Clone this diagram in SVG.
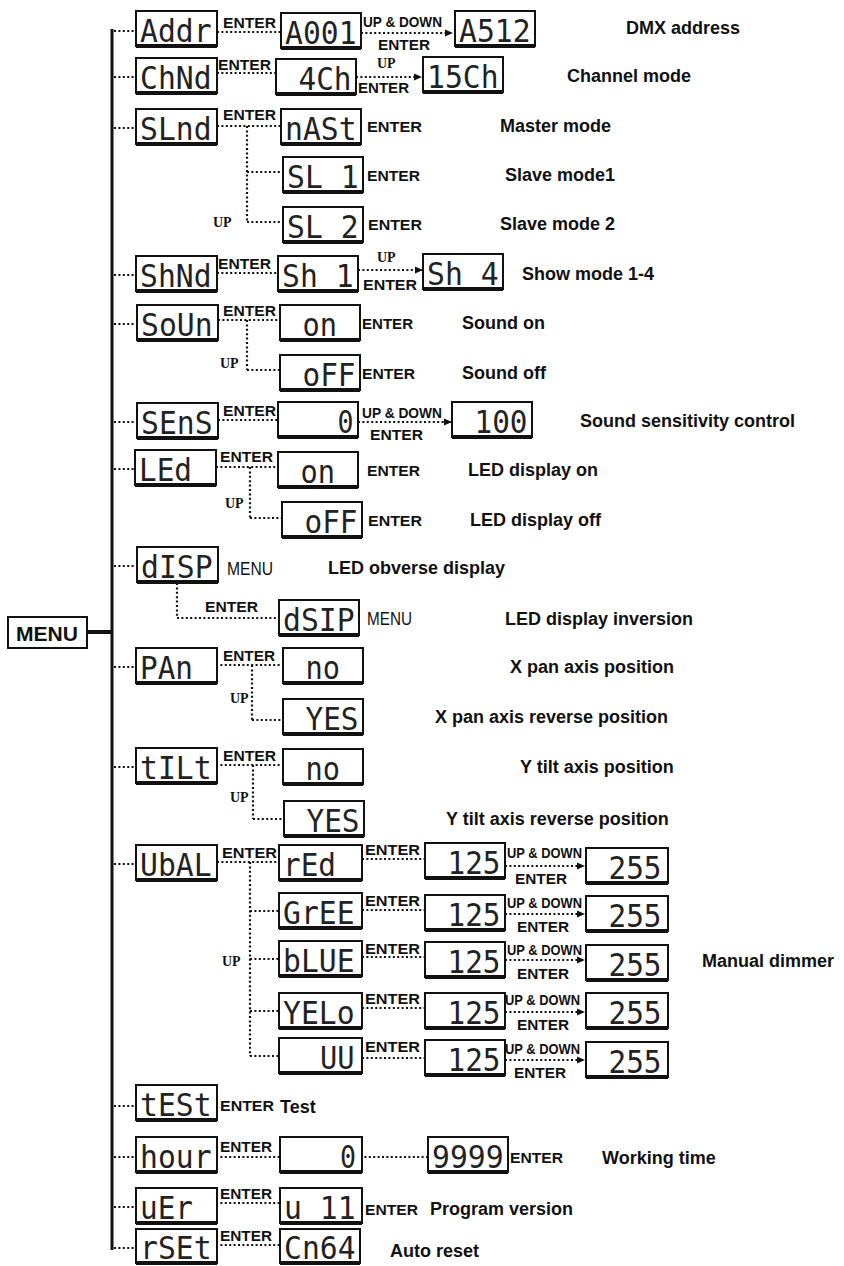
<svg xmlns="http://www.w3.org/2000/svg" width="844" height="1266" viewBox="0 0 844 1266">
<style>
.box{fill:#fff;stroke:#111;stroke-width:2}
.sh{stroke:#111;stroke-width:4}
.seg{font-family:"DejaVu Sans Mono","Liberation Mono",monospace;font-size:32px;fill:#222}
.dot{fill:none;stroke:#111;stroke-width:2.2;stroke-dasharray:2 2.4}
.main{fill:none;stroke:#111;stroke-width:3}
.lbl{font-family:"Liberation Sans",Arial,sans-serif;font-weight:bold;font-size:18px;fill:#111}
.en{font-family:"Liberation Sans",Arial,sans-serif;font-weight:bold;font-size:15px;fill:#111}
.ud{font-family:"Liberation Sans",Arial,sans-serif;font-weight:bold;font-size:14px;fill:#111}
.up{font-family:"Liberation Serif","Times New Roman",serif;font-weight:bold;font-size:14px;fill:#111}
.mn{font-family:"Liberation Sans",Arial,sans-serif;font-size:19px;fill:#111}
.menu{font-family:"Liberation Sans",Arial,sans-serif;font-weight:bold;font-size:21px;fill:#111}
</style>
<defs>
<marker id="ah" markerWidth="8" markerHeight="8" refX="7" refY="4" orient="auto" markerUnits="userSpaceOnUse"><path d="M0,0.5 L8,4 L0,7.5 z" fill="#111"/></marker>
</defs>
<rect width="844" height="1266" fill="#fff"/>

<g id="connectors">
<line class="main" x1="112" y1="29" x2="112" y2="1250"/>
<line x1="87" y1="632" x2="112" y2="632" stroke="#111" stroke-width="4"/>
<path class="dot" d="M114,31H136 M114,77H136 M114,128H136 M114,275H136 M114,324H137 M114,422H137 M114,469H135 M114,566H137 M114,667H136 M114,767H136 M114,864H136 M114,1106H136 M114,1157H136 M114,1207H136 M114,1248H136"/>
<path class="dot" d="M217,32H281"/>
<path class="dot" d="M361,33H452" marker-end="url(#ah)"/>
<path class="dot" d="M217,73H276"/>
<path class="dot" d="M356,77H421" marker-end="url(#ah)"/>
<path class="dot" d="M217,126H281 M247,126V222 M247,172H283 M247,222H283"/>
<path class="dot" d="M217,273H278"/>
<path class="dot" d="M358,270H422" marker-end="url(#ah)"/>
<path class="dot" d="M218,320H280 M247,320V370 M247,370H280"/>
<path class="dot" d="M218,420H278"/>
<path class="dot" d="M358,422H451" marker-end="url(#ah)"/>
<path class="dot" d="M216,467H278 M250,467V518 M250,518H282"/>
<path class="dot" d="M177,583V618 M177,618H279"/>
<path class="dot" d="M216,665H283 M252,665V720 M252,720H283"/>
<path class="dot" d="M216,765H283 M253,765V819 M253,819H284"/>
<path class="dot" d="M217,862H279 M250,862V1056 M250,911H279 M250,959H279 M250,1011H279 M250,1056H279"/>
<path class="dot" d="M362,859H425 M362,910H425 M362,957H425 M362,1008H425 M362,1058H425"/>
<path class="dot" d="M505,866H584" marker-end="url(#ah)"/>
<path class="dot" d="M505,914H584" marker-end="url(#ah)"/>
<path class="dot" d="M505,960H584" marker-end="url(#ah)"/>
<path class="dot" d="M505,1012H584" marker-end="url(#ah)"/>
<path class="dot" d="M505,1060H584" marker-end="url(#ah)"/>
<path class="dot" d="M216,1157H280 M360,1157H428 M216,1203H280 M216,1245H280"/>
<text class="en" x="223" y="28" textLength="53" lengthAdjust="spacingAndGlyphs">ENTER</text>
<text class="ud" x="363" y="27" textLength="79" lengthAdjust="spacingAndGlyphs">UP &amp; DOWN</text>
<text class="en" x="378" y="50" textLength="52" lengthAdjust="spacingAndGlyphs">ENTER</text>
<text class="en" x="218" y="70" textLength="53" lengthAdjust="spacingAndGlyphs">ENTER</text>
<text class="up" x="377" y="68">UP</text>
<text class="en" x="358" y="93" textLength="51" lengthAdjust="spacingAndGlyphs">ENTER</text>
<text class="en" x="223" y="120" textLength="53" lengthAdjust="spacingAndGlyphs">ENTER</text>
<text class="en" x="367" y="132" textLength="55" lengthAdjust="spacingAndGlyphs">ENTER</text>
<text class="en" x="367" y="181" textLength="53" lengthAdjust="spacingAndGlyphs">ENTER</text>
<text class="up" x="213" y="227">UP</text>
<text class="en" x="368" y="230" textLength="54" lengthAdjust="spacingAndGlyphs">ENTER</text>
<text class="en" x="218" y="269" textLength="53" lengthAdjust="spacingAndGlyphs">ENTER</text>
<text class="up" x="377" y="262">UP</text>
<text class="en" x="363" y="290" textLength="54" lengthAdjust="spacingAndGlyphs">ENTER</text>
<text class="en" x="223" y="316" textLength="53" lengthAdjust="spacingAndGlyphs">ENTER</text>
<text class="en" x="362" y="329" textLength="51" lengthAdjust="spacingAndGlyphs">ENTER</text>
<text class="up" x="220" y="368">UP</text>
<text class="en" x="362" y="379" textLength="53" lengthAdjust="spacingAndGlyphs">ENTER</text>
<text class="en" x="223" y="416" textLength="53" lengthAdjust="spacingAndGlyphs">ENTER</text>
<text class="ud" x="362" y="418" textLength="80" lengthAdjust="spacingAndGlyphs">UP &amp; DOWN</text>
<text class="en" x="370" y="440" textLength="53" lengthAdjust="spacingAndGlyphs">ENTER</text>
<text class="en" x="220" y="462" textLength="53" lengthAdjust="spacingAndGlyphs">ENTER</text>
<text class="en" x="367" y="476" textLength="53" lengthAdjust="spacingAndGlyphs">ENTER</text>
<text class="up" x="225" y="508">UP</text>
<text class="en" x="368" y="526" textLength="54" lengthAdjust="spacingAndGlyphs">ENTER</text>
<text class="mn" x="227" y="575" textLength="46" lengthAdjust="spacingAndGlyphs">MENU</text>
<text class="en" x="205" y="612" textLength="53" lengthAdjust="spacingAndGlyphs">ENTER</text>
<text class="mn" x="367" y="625" textLength="45" lengthAdjust="spacingAndGlyphs">MENU</text>
<text class="en" x="223" y="661" textLength="52" lengthAdjust="spacingAndGlyphs">ENTER</text>
<text class="up" x="230" y="703">UP</text>
<text class="en" x="223" y="761" textLength="53" lengthAdjust="spacingAndGlyphs">ENTER</text>
<text class="up" x="230" y="802">UP</text>
<text class="en" x="222" y="858" textLength="55" lengthAdjust="spacingAndGlyphs">ENTER</text>
<text class="up" x="222" y="966">UP</text>
<text class="en" x="365" y="855" textLength="55" lengthAdjust="spacingAndGlyphs">ENTER</text>
<text class="en" x="365" y="906" textLength="55" lengthAdjust="spacingAndGlyphs">ENTER</text>
<text class="en" x="365" y="954" textLength="55" lengthAdjust="spacingAndGlyphs">ENTER</text>
<text class="en" x="365" y="1004" textLength="55" lengthAdjust="spacingAndGlyphs">ENTER</text>
<text class="en" x="365" y="1052" textLength="55" lengthAdjust="spacingAndGlyphs">ENTER</text>
<text class="ud" x="507" y="858" textLength="75" lengthAdjust="spacingAndGlyphs">UP &amp; DOWN</text>
<text class="ud" x="507" y="908" textLength="75" lengthAdjust="spacingAndGlyphs">UP &amp; DOWN</text>
<text class="ud" x="507" y="955" textLength="75" lengthAdjust="spacingAndGlyphs">UP &amp; DOWN</text>
<text class="ud" x="505" y="1005" textLength="75" lengthAdjust="spacingAndGlyphs">UP &amp; DOWN</text>
<text class="ud" x="505" y="1054" textLength="75" lengthAdjust="spacingAndGlyphs">UP &amp; DOWN</text>
<text class="en" x="515" y="884" textLength="52" lengthAdjust="spacingAndGlyphs">ENTER</text>
<text class="en" x="517" y="932" textLength="52" lengthAdjust="spacingAndGlyphs">ENTER</text>
<text class="en" x="517" y="979" textLength="52" lengthAdjust="spacingAndGlyphs">ENTER</text>
<text class="en" x="517" y="1030" textLength="52" lengthAdjust="spacingAndGlyphs">ENTER</text>
<text class="en" x="514" y="1078" textLength="52" lengthAdjust="spacingAndGlyphs">ENTER</text>
<text class="en" x="220" y="1111" textLength="54" lengthAdjust="spacingAndGlyphs">ENTER</text>
<text class="en" x="220" y="1152" textLength="52" lengthAdjust="spacingAndGlyphs">ENTER</text>
<text class="en" x="510" y="1163" textLength="53" lengthAdjust="spacingAndGlyphs">ENTER</text>
<text class="en" x="220" y="1199" textLength="52" lengthAdjust="spacingAndGlyphs">ENTER</text>
<text class="en" x="365" y="1215" textLength="53" lengthAdjust="spacingAndGlyphs">ENTER</text>
<text class="en" x="220" y="1241" textLength="52" lengthAdjust="spacingAndGlyphs">ENTER</text>
</g>

<g id="n-menu"><rect x="8" y="617" width="79" height="31" fill="#fff" stroke="#111" stroke-width="2"/><text class="menu" x="16" y="641" textLength="62" lengthAdjust="spacingAndGlyphs">MENU</text></g>

<g id="n-addr"><rect class="box" x="136" y="11" width="81" height="35"/><line class="sh" x1="136" y1="46" x2="217" y2="46"/><text class="seg" x="140" y="42" textLength="71.5" lengthAdjust="spacingAndGlyphs">Addr</text></g>
<g id="n-chnd"><rect class="box" x="136" y="58" width="81" height="35"/><line class="sh" x1="136" y1="93" x2="217" y2="93"/><text class="seg" x="140" y="89" textLength="71.5" lengthAdjust="spacingAndGlyphs">ChNd</text></g>
<g id="n-slnd"><rect class="box" x="136" y="109" width="81" height="35"/><line class="sh" x1="136" y1="144" x2="217" y2="144"/><text class="seg" x="140" y="140" textLength="71.5" lengthAdjust="spacingAndGlyphs">SLnd</text></g>
<g id="n-shnd"><rect class="box" x="136" y="256" width="81" height="35"/><line class="sh" x1="136" y1="291" x2="217" y2="291"/><text class="seg" x="140" y="287" textLength="71.5" lengthAdjust="spacingAndGlyphs">ShNd</text></g>
<g id="n-soun"><rect class="box" x="137" y="305" width="81" height="35"/><line class="sh" x1="137" y1="340" x2="218" y2="340"/><text class="seg" x="141" y="336" textLength="71.5" lengthAdjust="spacingAndGlyphs">SoUn</text></g>
<g id="n-sens"><rect class="box" x="137" y="403" width="81" height="35"/><line class="sh" x1="137" y1="438" x2="218" y2="438"/><text class="seg" x="141" y="434" textLength="71.5" lengthAdjust="spacingAndGlyphs">SEnS</text></g>
<g id="n-led"><rect class="box" x="135" y="450" width="81" height="35"/><line class="sh" x1="135" y1="485" x2="216" y2="485"/><text class="seg" x="139" y="481" textLength="53" lengthAdjust="spacingAndGlyphs">LEd</text></g>
<g id="n-disp"><rect class="box" x="137" y="547" width="81" height="35"/><line class="sh" x1="137" y1="582" x2="218" y2="582"/><text class="seg" x="141" y="578" textLength="71.5" lengthAdjust="spacingAndGlyphs">dISP</text></g>
<g id="n-pan"><rect class="box" x="136" y="648" width="81" height="35"/><line class="sh" x1="136" y1="683" x2="217" y2="683"/><text class="seg" x="140" y="679" textLength="53" lengthAdjust="spacingAndGlyphs">PAn</text></g>
<g id="n-tilt"><rect class="box" x="136" y="748" width="81" height="35"/><line class="sh" x1="136" y1="783" x2="217" y2="783"/><text class="seg" x="140" y="779" textLength="71.5" lengthAdjust="spacingAndGlyphs">tILt</text></g>
<g id="n-ubal"><rect class="box" x="136" y="845" width="81" height="35"/><line class="sh" x1="136" y1="880" x2="217" y2="880"/><text class="seg" x="140" y="876" textLength="71.5" lengthAdjust="spacingAndGlyphs">UbAL</text></g>
<g id="n-test"><rect class="box" x="136" y="1085" width="81" height="35"/><line class="sh" x1="136" y1="1120" x2="217" y2="1120"/><text class="seg" x="140" y="1116" textLength="71.5" lengthAdjust="spacingAndGlyphs">tESt</text></g>
<g id="n-hour"><rect class="box" x="136" y="1137" width="81" height="35"/><line class="sh" x1="136" y1="1172" x2="217" y2="1172"/><text class="seg" x="140" y="1168" textLength="71.5" lengthAdjust="spacingAndGlyphs">hour</text></g>
<g id="n-uer"><rect class="box" x="136" y="1188" width="81" height="35"/><line class="sh" x1="136" y1="1223" x2="217" y2="1223"/><text class="seg" x="140" y="1219" textLength="53" lengthAdjust="spacingAndGlyphs">uEr</text></g>
<g id="n-rset"><rect class="box" x="136" y="1229" width="81" height="34"/><line class="sh" x1="136" y1="1263" x2="217" y2="1263"/><text class="seg" x="140" y="1259" textLength="71.5" lengthAdjust="spacingAndGlyphs">rSEt</text></g>

<g id="n-a001"><rect class="box" x="281" y="13" width="80" height="35"/><line class="sh" x1="281" y1="48" x2="361" y2="48"/><text class="seg" x="285" y="44" textLength="71.5" lengthAdjust="spacingAndGlyphs">A001</text></g>
<g id="n-a512"><rect class="box" x="455" y="11" width="80" height="35"/><line class="sh" x1="455" y1="46" x2="535" y2="46"/><text class="seg" x="459" y="42" textLength="71.5" lengthAdjust="spacingAndGlyphs">A512</text></g>
<g id="n-ch4"><rect class="box" x="276" y="59" width="80" height="35"/><line class="sh" x1="276" y1="94" x2="356" y2="94"/><text class="seg" x="298.5" y="90" textLength="53" lengthAdjust="spacingAndGlyphs">4Ch</text></g>
<g id="n-ch15"><rect class="box" x="423" y="57" width="80" height="35"/><line class="sh" x1="423" y1="92" x2="503" y2="92"/><text class="seg" x="427" y="88" textLength="71.5" lengthAdjust="spacingAndGlyphs">15Ch</text></g>
<g id="n-mast"><rect class="box" x="281" y="109" width="80" height="35"/><line class="sh" x1="281" y1="144" x2="361" y2="144"/><text class="seg" x="285" y="140" textLength="71.5" lengthAdjust="spacingAndGlyphs">nASt</text></g>
<g id="n-sl1"><rect class="box" x="283" y="157" width="80" height="35"/><line class="sh" x1="283" y1="192" x2="363" y2="192"/><text class="seg" x="287" y="188" textLength="71.5" lengthAdjust="spacingAndGlyphs">SL 1</text></g>
<g id="n-sl2"><rect class="box" x="283" y="207" width="80" height="35"/><line class="sh" x1="283" y1="242" x2="363" y2="242"/><text class="seg" x="287" y="238" textLength="71.5" lengthAdjust="spacingAndGlyphs">SL 2</text></g>
<g id="n-sh1"><rect class="box" x="278" y="256" width="80" height="35"/><line class="sh" x1="278" y1="291" x2="358" y2="291"/><text class="seg" x="282" y="287" textLength="71.5" lengthAdjust="spacingAndGlyphs">Sh 1</text></g>
<g id="n-sh4"><rect class="box" x="423" y="254" width="80" height="35"/><line class="sh" x1="423" y1="289" x2="503" y2="289"/><text class="seg" x="427" y="285" textLength="71.5" lengthAdjust="spacingAndGlyphs">Sh 4</text></g>
<g id="n-son"><rect class="box" x="280" y="305" width="80" height="35"/><line class="sh" x1="280" y1="340" x2="360" y2="340"/><text class="seg" x="302.5" y="336" textLength="34.5" lengthAdjust="spacingAndGlyphs">on</text></g>
<g id="n-soff"><rect class="box" x="280" y="355" width="80" height="35"/><line class="sh" x1="280" y1="390" x2="360" y2="390"/><text class="seg" x="302.5" y="386" textLength="53" lengthAdjust="spacingAndGlyphs">oFF</text></g>
<g id="n-s0"><rect class="box" x="278" y="402" width="80" height="35"/><line class="sh" x1="278" y1="437" x2="358" y2="437"/><text class="seg" x="337.5" y="433" textLength="16" lengthAdjust="spacingAndGlyphs">0</text></g>
<g id="n-s100"><rect class="box" x="452" y="402" width="80" height="35"/><line class="sh" x1="452" y1="437" x2="532" y2="437"/><text class="seg" x="474.5" y="433" textLength="53" lengthAdjust="spacingAndGlyphs">100</text></g>
<g id="n-lon"><rect class="box" x="278" y="452" width="80" height="35"/><line class="sh" x1="278" y1="487" x2="358" y2="487"/><text class="seg" x="300.5" y="483" textLength="34.5" lengthAdjust="spacingAndGlyphs">on</text></g>
<g id="n-loff"><rect class="box" x="282" y="502" width="80" height="35"/><line class="sh" x1="282" y1="537" x2="362" y2="537"/><text class="seg" x="304.5" y="533" textLength="53" lengthAdjust="spacingAndGlyphs">oFF</text></g>
<g id="n-dsip"><rect class="box" x="279" y="600" width="80" height="35"/><line class="sh" x1="279" y1="635" x2="359" y2="635"/><text class="seg" x="283" y="631" textLength="71.5" lengthAdjust="spacingAndGlyphs">dSIP</text></g>
<g id="n-pno"><rect class="box" x="283" y="648" width="80" height="35"/><line class="sh" x1="283" y1="683" x2="363" y2="683"/><text class="seg" x="305.5" y="679" textLength="34.5" lengthAdjust="spacingAndGlyphs">no</text></g>
<g id="n-pyes"><rect class="box" x="283" y="699" width="80" height="35"/><line class="sh" x1="283" y1="734" x2="363" y2="734"/><text class="seg" x="305.5" y="730" textLength="53" lengthAdjust="spacingAndGlyphs">YES</text></g>
<g id="n-tno"><rect class="box" x="283" y="749" width="80" height="35"/><line class="sh" x1="283" y1="784" x2="363" y2="784"/><text class="seg" x="305.5" y="780" textLength="34.5" lengthAdjust="spacingAndGlyphs">no</text></g>
<g id="n-tyes"><rect class="box" x="284" y="801" width="80" height="35"/><line class="sh" x1="284" y1="836" x2="364" y2="836"/><text class="seg" x="306.5" y="832" textLength="53" lengthAdjust="spacingAndGlyphs">YES</text></g>

<g id="n-red"><rect class="box" x="279" y="845" width="83" height="35"/><line class="sh" x1="279" y1="880" x2="362" y2="880"/><text class="seg" x="283" y="876" textLength="53" lengthAdjust="spacingAndGlyphs">rEd</text></g>
<g id="n-gree"><rect class="box" x="279" y="893" width="83" height="35"/><line class="sh" x1="279" y1="928" x2="362" y2="928"/><text class="seg" x="283" y="924" textLength="71.5" lengthAdjust="spacingAndGlyphs">GrEE</text></g>
<g id="n-blue"><rect class="box" x="279" y="941" width="83" height="35"/><line class="sh" x1="279" y1="976" x2="362" y2="976"/><text class="seg" x="283" y="972" textLength="71.5" lengthAdjust="spacingAndGlyphs">bLUE</text></g>
<g id="n-yelo"><rect class="box" x="279" y="993" width="83" height="35"/><line class="sh" x1="279" y1="1028" x2="362" y2="1028"/><text class="seg" x="283" y="1024" textLength="71.5" lengthAdjust="spacingAndGlyphs">YELo</text></g>
<g id="n-uu"><rect class="box" x="279" y="1038" width="83" height="35"/><line class="sh" x1="279" y1="1073" x2="362" y2="1073"/><text class="seg" x="320" y="1069" textLength="34.5" lengthAdjust="spacingAndGlyphs">UU</text></g>

<g id="n-r125"><rect class="box" x="425" y="843" width="80" height="35"/><line class="sh" x1="425" y1="878" x2="505" y2="878"/><text class="seg" x="447.5" y="874" textLength="53" lengthAdjust="spacingAndGlyphs">125</text></g>
<g id="n-g125"><rect class="box" x="425" y="895" width="80" height="35"/><line class="sh" x1="425" y1="930" x2="505" y2="930"/><text class="seg" x="447.5" y="926" textLength="53" lengthAdjust="spacingAndGlyphs">125</text></g>
<g id="n-b125"><rect class="box" x="425" y="942" width="80" height="35"/><line class="sh" x1="425" y1="977" x2="505" y2="977"/><text class="seg" x="447.5" y="973" textLength="53" lengthAdjust="spacingAndGlyphs">125</text></g>
<g id="n-y125"><rect class="box" x="425" y="993" width="80" height="35"/><line class="sh" x1="425" y1="1028" x2="505" y2="1028"/><text class="seg" x="447.5" y="1024" textLength="53" lengthAdjust="spacingAndGlyphs">125</text></g>
<g id="n-u125"><rect class="box" x="425" y="1040" width="80" height="35"/><line class="sh" x1="425" y1="1075" x2="505" y2="1075"/><text class="seg" x="447.5" y="1071" textLength="53" lengthAdjust="spacingAndGlyphs">125</text></g>

<g id="n-r255"><rect class="box" x="586" y="848" width="82" height="35"/><line class="sh" x1="586" y1="883" x2="668" y2="883"/><text class="seg" x="608.5" y="879" textLength="53" lengthAdjust="spacingAndGlyphs">255</text></g>
<g id="n-g255"><rect class="box" x="586" y="896" width="82" height="35"/><line class="sh" x1="586" y1="931" x2="668" y2="931"/><text class="seg" x="608.5" y="927" textLength="53" lengthAdjust="spacingAndGlyphs">255</text></g>
<g id="n-b255"><rect class="box" x="586" y="945" width="82" height="35"/><line class="sh" x1="586" y1="980" x2="668" y2="980"/><text class="seg" x="608.5" y="976" textLength="53" lengthAdjust="spacingAndGlyphs">255</text></g>
<g id="n-y255"><rect class="box" x="586" y="993" width="82" height="35"/><line class="sh" x1="586" y1="1028" x2="668" y2="1028"/><text class="seg" x="608.5" y="1024" textLength="53" lengthAdjust="spacingAndGlyphs">255</text></g>
<g id="n-u255"><rect class="box" x="586" y="1042" width="82" height="35"/><line class="sh" x1="586" y1="1077" x2="668" y2="1077"/><text class="seg" x="608.5" y="1073" textLength="53" lengthAdjust="spacingAndGlyphs">255</text></g>

<g id="n-h0"><rect class="box" x="280" y="1137" width="82" height="35"/><line class="sh" x1="280" y1="1172" x2="362" y2="1172"/><text class="seg" x="340" y="1168" textLength="16" lengthAdjust="spacingAndGlyphs">0</text></g>
<g id="n-h9999"><rect class="box" x="428" y="1137" width="80" height="35"/><line class="sh" x1="428" y1="1172" x2="508" y2="1172"/><text class="seg" x="432" y="1168" textLength="71.5" lengthAdjust="spacingAndGlyphs">9999</text></g>
<g id="n-u11"><rect class="box" x="280" y="1188" width="82" height="35"/><line class="sh" x1="280" y1="1223" x2="362" y2="1223"/><text class="seg" x="284" y="1219" textLength="71.5" lengthAdjust="spacingAndGlyphs">u 11</text></g>
<g id="n-cn64"><rect class="box" x="280" y="1229" width="80" height="34"/><line class="sh" x1="280" y1="1263" x2="360" y2="1263"/><text class="seg" x="284" y="1259" textLength="71.5" lengthAdjust="spacingAndGlyphs">Cn64</text></g>

<g id="notes">
<text class="lbl" x="626" y="34">DMX address</text>
<text class="lbl" x="567" y="82">Channel mode</text>
<text class="lbl" x="500" y="132">Master mode</text>
<text class="lbl" x="505" y="181">Slave mode1</text>
<text class="lbl" x="500" y="230">Slave mode 2</text>
<text class="lbl" x="522" y="280">Show mode 1-4</text>
<text class="lbl" x="462" y="329">Sound on</text>
<text class="lbl" x="462" y="379">Sound off</text>
<text class="lbl" x="580" y="427">Sound sensitivity control</text>
<text class="lbl" x="468" y="476">LED display on</text>
<text class="lbl" x="470" y="526">LED display off</text>
<text class="lbl" x="328" y="574" fill="#1a1a3a">LED obverse display</text>
<text class="lbl" x="505" y="625">LED display inversion</text>
<text class="lbl" x="510" y="673">X pan axis position</text>
<text class="lbl" x="435" y="723">X pan axis reverse position</text>
<text class="lbl" x="520" y="773">Y tilt axis position</text>
<text class="lbl" x="446" y="825">Y tilt axis reverse position</text>
<text class="lbl" x="702" y="967">Manual dimmer</text>
<text class="lbl" x="280" y="1113">Test</text>
<text class="lbl" x="602" y="1164">Working time</text>
<text class="lbl" x="430" y="1215">Program version</text>
<text class="lbl" x="390" y="1257">Auto reset</text>
</g>
</svg>
